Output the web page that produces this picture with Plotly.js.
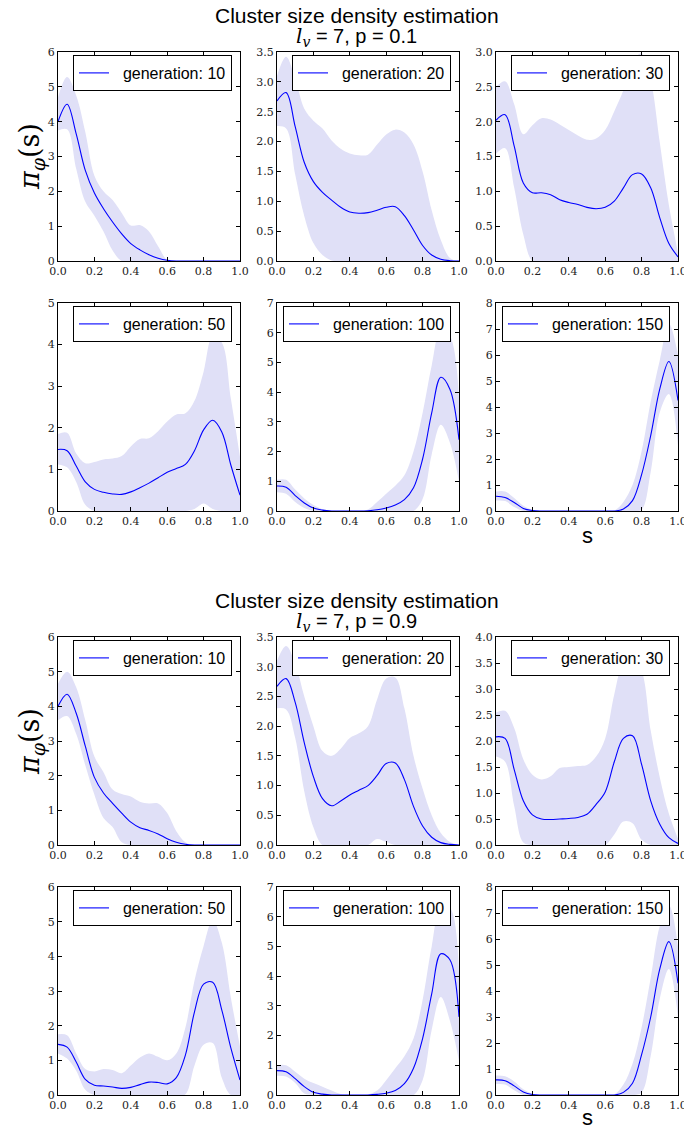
<!DOCTYPE html>
<html>
<head>
<meta charset="utf-8">
<script src="https://cdn.plot.ly/plotly-3.0.1.min.js"></script>
<style>
  html, body { margin: 0; padding: 0; background: #fff; }
  #chart { width: 684px; height: 1129px; }
</style>
</head>
<body>
<div id="chart"></div>
<script>
// Cluster size s sampled on [0, 1]
const s = [0, 0.05, 0.1, 0.15, 0.2, 0.25, 0.3, 0.35, 0.4, 0.45, 0.5,
           0.55, 0.6, 0.65, 0.7, 0.75, 0.8, 0.85, 0.9, 0.95, 1.0];

// p = 0.1 — mean density and lower/upper band per generation
const p1_g10_mean = [4.0, 4.5, 3.65, 2.6, 1.95, 1.5, 1.12, 0.78, 0.5, 0.32, 0.18, 0.08, 0.02, 0, 0, 0, 0, 0, 0, 0, 0];
const p1_g10_hi   = [4.7, 5.28, 4.75, 3.7, 2.45, 2.0, 1.75, 1.38, 1.02, 1.03, 0.85, 0.42, 0.03, 0, 0, 0, 0, 0, 0, 0, 0];
const p1_g10_lo   = [3.75, 3.78, 2.65, 1.7, 1.3, 0.85, 0.3, 0, 0, 0, 0, 0, 0, 0, 0, 0, 0, 0, 0, 0, 0];

const p1_g20_mean = [2.68, 2.82, 2.25, 1.65, 1.33, 1.15, 1.02, 0.9, 0.82, 0.8, 0.81, 0.85, 0.9, 0.91, 0.76, 0.52, 0.26, 0.1, 0.03, 0.005, 0];
const p1_g20_hi   = [3.1, 3.42, 3.05, 2.55, 2.35, 2.22, 2.02, 1.88, 1.8, 1.77, 1.78, 1.95, 2.12, 2.2, 2.15, 1.95, 1.5, 0.85, 0.35, 0.05, 0];
const p1_g20_lo   = [2.26, 2.22, 1.45, 0.75, 0.3, 0.1, 0.01, 0, 0, 0, 0, 0, 0, 0, 0, 0, 0, 0, 0, 0, 0];

const p1_g30_mean = [2.02, 2.1, 1.65, 1.12, 0.98, 0.98, 0.95, 0.88, 0.84, 0.81, 0.77, 0.75, 0.77, 0.86, 1.05, 1.24, 1.25, 1.05, 0.62, 0.25, 0.06];
const p1_g30_hi   = [2.5, 2.58, 2.25, 1.82, 1.95, 2.05, 2.03, 1.96, 1.88, 1.8, 1.74, 1.76, 1.88, 2.15, 2.45, 2.85, 2.98, 2.6, 1.7, 0.8, 0.12];
const p1_g30_lo   = [1.54, 1.62, 1.05, 0.38, 0, 0, 0, 0, 0, 0, 0, 0, 0, 0, 0, 0, 0, 0, 0, 0, 0];

const p1_g50_mean = [1.48, 1.45, 1.08, 0.7, 0.52, 0.45, 0.41, 0.4, 0.46, 0.56, 0.67, 0.8, 0.93, 1.02, 1.12, 1.45, 1.95, 2.18, 1.9, 1.1, 0.38];
const p1_g50_hi   = [1.85, 1.88, 1.38, 1.15, 1.18, 1.24, 1.26, 1.32, 1.55, 1.73, 1.75, 1.92, 2.15, 2.32, 2.35, 2.65, 3.35, 4.2, 4.05, 2.7, 1.3];
const p1_g50_lo   = [1.12, 1.05, 0.7, 0.15, 0, 0, 0, 0, 0, 0, 0, 0, 0, 0, 0, 0.05, 0.18, 0.05, 0, 0, 0];

const p1_g100_mean = [0.84, 0.8, 0.52, 0.27, 0.1, 0.03, 0, 0, 0, 0, 0.01, 0.04, 0.1, 0.2, 0.38, 0.78, 1.75, 3.3, 4.5, 4.1, 2.4];
const p1_g100_hi   = [1.05, 1.05, 0.72, 0.42, 0.2, 0.06, 0.01, 0, 0, 0, 0.05, 0.3, 0.58, 0.85, 1.2, 2.0, 3.3, 4.9, 6.1, 5.9, 3.8];
const p1_g100_lo   = [0.63, 0.58, 0.3, 0.1, 0, 0, 0, 0, 0, 0, 0, 0, 0, 0, 0, 0, 0.4, 1.9, 2.9, 2.3, 1.0];

const p1_g150_mean = [0.57, 0.52, 0.33, 0.1, 0.02, 0, 0, 0, 0, 0, 0, 0, 0, 0, 0.08, 0.4, 1.4, 2.9, 4.7, 5.75, 4.25];
const p1_g150_hi   = [0.75, 0.75, 0.5, 0.2, 0.05, 0, 0, 0, 0, 0, 0, 0, 0, 0.02, 0.35, 1.0, 2.3, 4.2, 5.8, 7.2, 6.0];
const p1_g150_lo   = [0.4, 0.38, 0.15, 0, 0, 0, 0, 0, 0, 0, 0, 0, 0, 0, 0, 0, 0.05, 1.5, 3.8, 4.5, 2.5];

// p = 0.9
const p9_g10_mean = [4.0, 4.35, 3.8, 2.85, 1.95, 1.5, 1.2, 0.92, 0.66, 0.5, 0.42, 0.32, 0.18, 0.08, 0.02, 0, 0, 0, 0, 0, 0];
const p9_g10_hi   = [4.65, 5.0, 4.55, 3.6, 2.55, 2.1, 1.6, 1.47, 1.4, 1.25, 1.2, 1.2, 0.92, 0.4, 0.08, 0, 0, 0, 0, 0, 0];
const p9_g10_lo   = [3.6, 3.72, 3.2, 2.3, 1.45, 0.78, 0.52, 0.08, 0, 0, 0, 0, 0, 0, 0, 0, 0, 0, 0, 0, 0];

const p9_g20_mean = [2.67, 2.8, 2.4, 1.72, 1.15, 0.78, 0.66, 0.74, 0.84, 0.92, 1.0, 1.17, 1.37, 1.38, 1.1, 0.65, 0.32, 0.13, 0.04, 0.01, 0];
const p9_g20_hi   = [3.1, 3.35, 3.05, 2.5, 2.0, 1.58, 1.5, 1.62, 1.8, 1.88, 2.0, 2.45, 2.8, 2.82, 2.3, 1.5, 0.95, 0.5, 0.2, 0.05, 0];
const p9_g20_lo   = [2.3, 2.28, 1.8, 0.9, 0.3, 0, 0, 0, 0, 0, 0, 0.1, 0.05, 0, 0, 0, 0, 0, 0, 0, 0];

const p9_g30_mean = [2.08, 2.05, 1.45, 0.85, 0.58, 0.5, 0.49, 0.5, 0.51, 0.53, 0.59, 0.78, 1.02, 1.6, 2.05, 2.1, 1.55, 0.85, 0.4, 0.14, 0.03];
const p9_g30_hi   = [2.55, 2.58, 2.25, 1.65, 1.35, 1.26, 1.32, 1.48, 1.5, 1.52, 1.54, 1.7, 2.05, 2.9, 3.5, 3.6, 3.35, 2.2, 1.3, 0.6, 0.12];
const p9_g30_lo   = [1.7, 1.6, 0.75, 0.05, 0, 0, 0, 0, 0, 0, 0, 0, 0, 0.2, 0.45, 0.42, 0.1, 0, 0, 0, 0];

const p9_g50_mean = [1.46, 1.38, 0.95, 0.45, 0.28, 0.26, 0.23, 0.19, 0.22, 0.3, 0.37, 0.36, 0.32, 0.5, 1.15, 2.4, 3.2, 3.25, 2.45, 1.35, 0.43];
const p9_g50_hi   = [1.75, 1.72, 1.2, 0.75, 0.68, 0.75, 0.72, 0.63, 0.85, 1.08, 1.2, 1.1, 1.0, 1.2, 1.95, 3.3, 4.3, 5.05, 4.4, 2.8, 1.4];
const p9_g50_lo   = [1.2, 1.05, 0.7, 0.15, 0, 0, 0, 0, 0, 0, 0, 0, 0, 0, 0.02, 0.85, 1.45, 1.5, 0.5, 0, 0];

const p9_g100_mean = [0.82, 0.78, 0.55, 0.28, 0.09, 0.03, 0, 0, 0, 0, 0, 0.02, 0.06, 0.15, 0.38, 0.9, 1.9, 3.4, 4.75, 4.55, 2.63];
const p9_g100_hi   = [1.0, 1.0, 0.78, 0.55, 0.4, 0.28, 0.15, 0.03, 0, 0, 0.02, 0.15, 0.5, 0.9, 1.3, 1.9, 3.2, 5.0, 6.3, 6.3, 4.1];
const p9_g100_lo   = [0.65, 0.62, 0.4, 0.05, 0, 0, 0, 0, 0, 0, 0, 0, 0, 0, 0, 0, 0.5, 2.2, 3.3, 2.5, 1.15];

const p9_g150_mean = [0.58, 0.55, 0.35, 0.12, 0.02, 0, 0, 0, 0, 0, 0, 0, 0, 0, 0.1, 0.45, 1.55, 3.0, 4.85, 5.9, 4.3];
const p9_g150_hi   = [0.75, 0.72, 0.52, 0.22, 0.05, 0, 0, 0, 0, 0, 0, 0, 0, 0.02, 0.4, 1.2, 2.6, 4.5, 6.5, 7.3, 5.7];
const p9_g150_lo   = [0.42, 0.4, 0.18, 0, 0, 0, 0, 0, 0, 0, 0, 0, 0, 0, 0, 0, 0.1, 1.5, 3.7, 4.85, 3.0];

const generations = [10, 20, 30, 50, 100, 150];
const probabilities = ['0.1', '0.9'];

const series = [
  [p1_g10_mean, p1_g10_lo, p1_g10_hi], [p1_g20_mean, p1_g20_lo, p1_g20_hi], [p1_g30_mean, p1_g30_lo, p1_g30_hi],
  [p1_g50_mean, p1_g50_lo, p1_g50_hi], [p1_g100_mean, p1_g100_lo, p1_g100_hi], [p1_g150_mean, p1_g150_lo, p1_g150_hi],
  [p9_g10_mean, p9_g10_lo, p9_g10_hi], [p9_g20_mean, p9_g20_lo, p9_g20_hi], [p9_g30_mean, p9_g30_lo, p9_g30_hi],
  [p9_g50_mean, p9_g50_lo, p9_g50_hi], [p9_g100_mean, p9_g100_lo, p9_g100_hi], [p9_g150_mean, p9_g150_lo, p9_g150_hi]
];

// y-axis extent and tick step for each panel
const yTop  = [6, 3.5, 3, 5, 7, 8, 6, 3.5, 4, 6, 7, 8];
const yStep = [1, 0.5, 0.5, 1, 1, 1, 1, 0.5, 0.5, 1, 1, 1];

// page geometry (pixels)
const W = 684, H = 1129;
const colLeft = [58, 277, 496], colW = 182;
const rows = [[52, 261], [303, 511], [637, 845], [887, 1095]];

const BLUE = '#0000ff';
const BAND = '#e0e0f7';

const frame = {
  showline: true, linecolor: '#000', linewidth: 1, mirror: 'allticks',
  ticks: 'inside', ticklen: 4, tickwidth: 1, tickcolor: '#000',
  showgrid: false, zeroline: false, fixedrange: true,
  ticklabeloverflow: 'allow',
  tickfont: { family: 'DejaVu Serif', size: 11, color: '#222' }
};

const data = [];
const layout = {
  width: W, height: H,
  margin: { l: 0, r: 0, t: 0, b: 0 },
  paper_bgcolor: '#fff', plot_bgcolor: '#fff',
  showlegend: true,
  annotations: []
};

series.forEach((sr, i) => {
  const [mean, lo, hi] = sr;
  const k = i === 0 ? '' : String(i + 1);
  const xa = 'x' + k, ya = 'y' + k;
  const leg = 'legend' + k;
  const row = Math.floor(i / 3), col = i % 3;
  const [top, bottom] = rows[row];
  const left = colLeft[col];

  data.push({ x: s, y: lo, xaxis: xa, yaxis: ya, mode: 'lines', type: 'scatter',
              line: { width: 0, shape: 'spline', color: BAND }, showlegend: false, hoverinfo: 'skip' });
  data.push({ x: s, y: hi, xaxis: xa, yaxis: ya, mode: 'lines', type: 'scatter', fill: 'tonexty',
              fillcolor: BAND, line: { width: 0, shape: 'spline', color: BAND }, showlegend: false, hoverinfo: 'skip' });
  // two no-break spaces widen the gap between the legend line and its label
  data.push({ x: s, y: mean, xaxis: xa, yaxis: ya, mode: 'lines', type: 'scatter',
              name: '\u00a0\u00a0generation: ' + generations[i % 6], legend: leg,
              line: { width: 1.1, shape: 'spline', color: BLUE } });

  layout['xaxis' + k] = Object.assign({}, frame, {
    domain: [left / W, (left + colW) / W], anchor: ya,
    range: [0, 1], tick0: 0, dtick: 0.2, tickformat: '.1f'
  });
  layout['yaxis' + k] = Object.assign({}, frame, {
    domain: [1 - bottom / H, 1 - top / H], anchor: xa,
    range: [0, yTop[i]], tick0: 0, dtick: yStep[i], tickformat: yStep[i] < 1 ? '.1f' : 'd'
  });
  layout[leg] = {
    x: (left + colW - 8) / W, y: 1 - (top + 3) / H, xref: 'paper', yref: 'paper',
    xanchor: 'right', yanchor: 'top', itemwidth: 30,
    bgcolor: '#fff', bordercolor: '#000', borderwidth: 1,
    font: { family: 'Liberation Sans, Arial, sans-serif', size: 16, color: '#000' }
  };
});

// figure titles, axis labels
const sans = 'Liberation Sans, Arial, sans-serif';
probabilities.forEach((p, j) => {
  const off = j * 585;
  layout.annotations.push({
    text: 'Cluster size density estimation', xref: 'paper', yref: 'paper',
    x: 357 / W, y: 1 - (15 + off) / H, xanchor: 'center', yanchor: 'middle', showarrow: false,
    font: { family: sans, size: 21, color: '#000' }
  });
  layout.annotations.push({
    text: '<span style="font-family:DejaVu Serif"><i>l</i><sub><i>v</i></sub></span> = 7, p = ' + p,
    xref: 'paper', yref: 'paper',
    x: 357 / W, y: 1 - (37 + off) / H, xanchor: 'center', yanchor: 'middle', showarrow: false,
    font: { family: sans, size: 20, color: '#000' }
  });
  layout.annotations.push({
    text: '<i>π</i><sub><i>φ</i></sub>(s)', xref: 'paper', yref: 'paper', textangle: -90,
    x: 31 / W, y: 1 - (157 + off) / H, xanchor: 'center', yanchor: 'middle', showarrow: false,
    font: { family: 'DejaVu Serif', size: 27, color: '#000' }
  });
  layout.annotations.push({
    text: 's', xref: 'paper', yref: 'paper',
    x: 587 / W, y: 1 - (j === 0 ? 535 : 1117) / H, xanchor: 'center', yanchor: 'middle', showarrow: false,
    font: { family: sans, size: 22, color: '#000' }
  });
});

Plotly.newPlot('chart', data, layout, { staticPlot: true, displayModeBar: false });
</script>
</body>
</html>
